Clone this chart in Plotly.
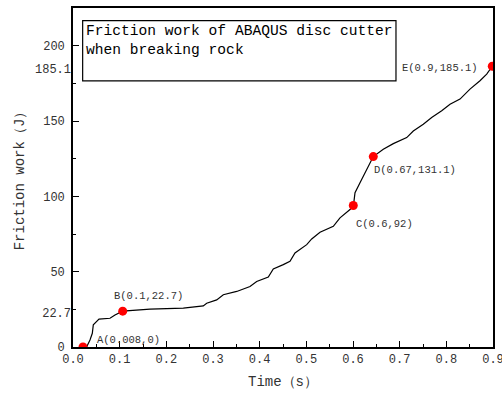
import plotly.graph_objects as go

# Curve
time_s = [0.0214, 0.0294, 0.0364, 0.0414, 0.0435, 0.0493, 0.0557, 0.0793, 0.0900, 0.1065,
          0.165, 0.2364, 0.2792, 0.2865, 0.3079, 0.3221, 0.3508, 0.3793, 0.3936, 0.4185,
          0.4292, 0.4506, 0.465, 0.4757, 0.5008, 0.5115, 0.5293, 0.5578, 0.5721, 0.5936,
          0.6006, 0.6021, 0.6043, 0.615, 0.6294, 0.6435, 0.6649, 0.6864, 0.7151, 0.7292,
          0.7506, 0.7686, 0.7901, 0.8079, 0.8293, 0.8507, 0.8721, 0.8865, 0.8985]
work_J = [0.0, 0.2, 4.7, 9.1, 14.7, 16.5, 18.5, 19.1, 21.3, 23.8,
          25.1, 25.8, 27.3, 29.1, 31.3, 34.7, 36.9, 40.2, 43.5, 46.5,
          51.8, 54.7, 56.9, 62.5, 68.0, 71.8, 76.2, 80.2, 85.8, 91.3,
          94.0, 96.9, 102.5, 109.1, 118.0, 126.5, 131.3, 135.1, 139.1, 143.5,
          148.0, 152.5, 156.9, 161.3, 164.7, 171.3, 176.9, 181.3, 186.5]

# Marked points
point_t = [0.0214, 0.1065, 0.6006, 0.6435, 0.8985]
point_F = [0.0, 23.8, 94.0, 126.5, 186.5]
point_labels = ["A(0.008,0)", "B(0.1,22.7)", "C(0.6,92)", "D(0.67,131.1)", "E(0.9,185.1)"]
label_anchor = ["left", "center", "left", "left", "right"]
label_dx = [12, 26, 1, -1, -12]
label_dy = [7, 15, -18, -13, -2]

x_ticks = [0.0, 0.1, 0.2, 0.3, 0.4, 0.5, 0.6, 0.7, 0.8, 0.9]
x_ticktext = ["0.0", "0.1", "0.2", "0.3", "0.4", "0.5", "0.6", "0.7", "0.8", "0.9"]
y_ticks = [0, 50, 100, 150, 200]
y_ticktext = ["0", "50", "100", "150", "200"]
y_extra = [22.7, 185.1]
y_extra_text = ["22.7", "185.1"]

FONT = "Liberation Mono"

fig = go.Figure()
fig.add_trace(go.Scatter(x=time_s, y=work_J, mode="lines",
                         line=dict(color="black", width=1.2), showlegend=False))
fig.add_trace(go.Scatter(x=point_t, y=point_F, mode="markers",
                         marker=dict(color="#ff0000", size=9), showlegend=False))
# invisible trace for secondary label axis
fig.add_trace(go.Scatter(x=[None], y=[None], yaxis="y2", showlegend=False))

for t, F, txt, anc, dx, dy in zip(point_t, point_F, point_labels, label_anchor, label_dx, label_dy):
    fig.add_annotation(x=t, y=F, xref="x", yref="y", text=txt, showarrow=False,
                       xanchor=anc, yanchor="middle", xshift=dx, yshift=dy,
                       font=dict(family=FONT, size=10.5, color="#333333"))

# title box
fig.add_shape(type="rect", xref="paper", yref="paper", x0=0.023, x1=0.769, y0=0.785, y1=0.9625,
              line=dict(color="black", width=1.2), fillcolor="rgba(0,0,0,0)")
fig.add_annotation(xref="paper", yref="paper", x=0.027, y=0.962, xanchor="left", yanchor="top",
                   align="left", showarrow=False,
                   text="Friction work of ABAQUS disc cutter<br>when breaking rock",
                   font=dict(family=FONT, size=14.6, color="black"))

yr = [0, 225.2]
fig.update_layout(
    width=502, height=394,
    margin=dict(l=73, r=9, t=8, b=47, autoexpand=False),
    paper_bgcolor="white", plot_bgcolor="white",
    font=dict(family=FONT, color="#333333"),
    xaxis=dict(range=[0, 0.9], tickvals=x_ticks, ticktext=x_ticktext, automargin=False,
               ticks="inside", ticklen=6, tickwidth=1.3, tickcolor="black",
               minor=dict(dtick=0.05, ticks="inside", ticklen=3, tickcolor="black", tickwidth=1.2),
               showline=True, linecolor="black", linewidth=1.6, mirror=True,
               showgrid=False, zeroline=False, ticklabeloverflow="allow",
               tickfont=dict(family=FONT, size=12, color="#333333"),
               title=dict(text="Time（s）", font=dict(family=FONT, size=14, color="#333333"),
                          standoff=10)),
    yaxis=dict(range=yr, tickvals=y_ticks, ticktext=y_ticktext, automargin=False,
               ticks="inside", ticklen=6, tickwidth=1.3, tickcolor="black",
               minor=dict(dtick=25, ticks="inside", ticklen=3, tickcolor="black", tickwidth=1.2),
               showline=True, linecolor="black", linewidth=1.6, mirror=True,
               showgrid=False, zeroline=False, ticklabelstandoff=4,
               tickfont=dict(family=FONT, size=12, color="#333333"),
               title=dict(text="Friction work（J）", font=dict(family=FONT, size=14, color="#333333"),
                          standoff=15)),
    yaxis2=dict(range=yr, overlaying="y", side="left", tickvals=y_extra, ticktext=y_extra_text,
                ticks="", showline=False, showgrid=False, zeroline=False, automargin=False,
                tickfont=dict(family=FONT, size=12, color="#333333"), ticklabelstandoff=1),
)

fig.write_html("out.html")
